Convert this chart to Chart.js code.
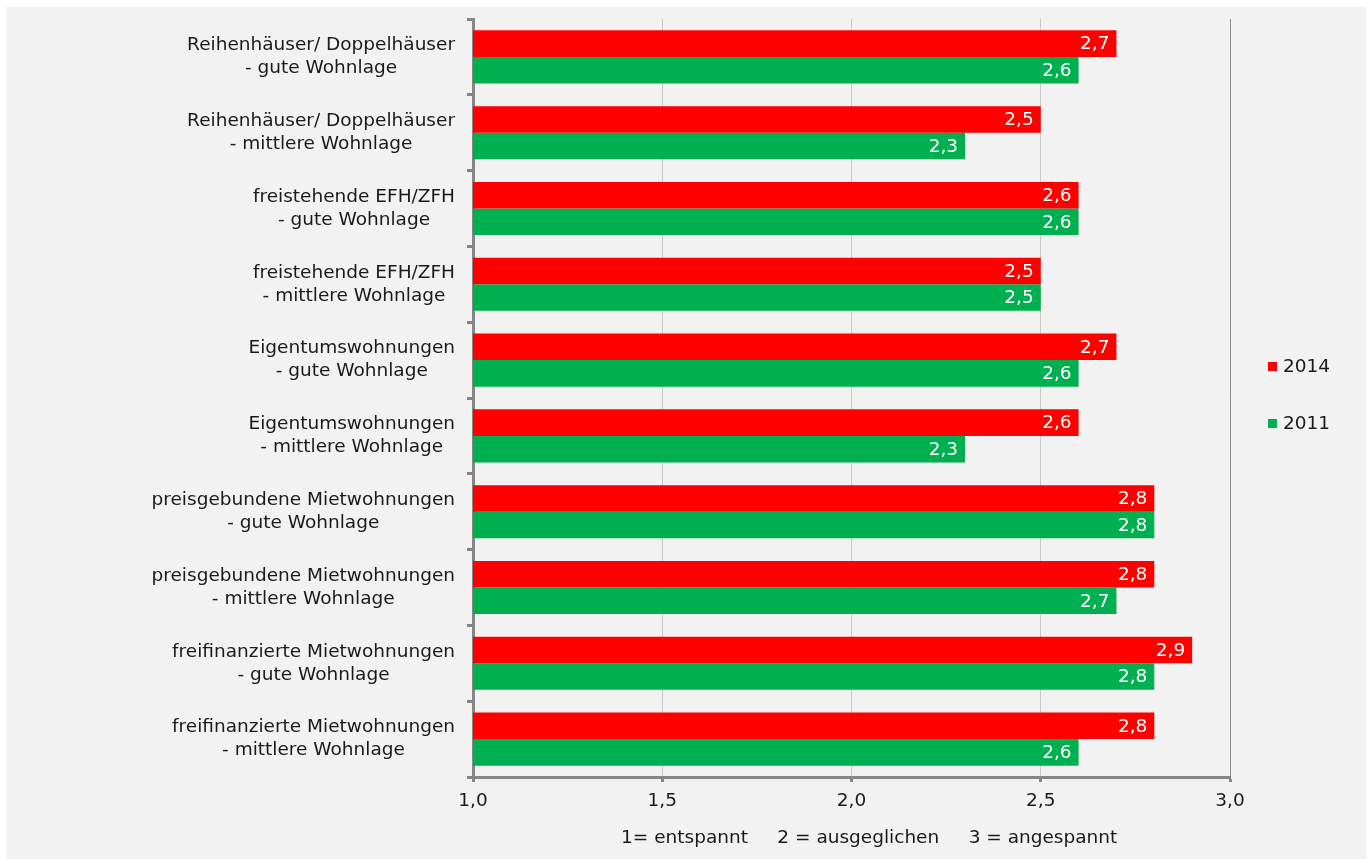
<!DOCTYPE html>
<html><head><meta charset="utf-8">
<script src="https://cdn.jsdelivr.net/npm/chart.js@4"></script>
<style>html,body{margin:0;padding:0;background:#fff;overflow:hidden}#wrap{width:1371px;height:859px;position:relative}</style>
</head><body><div id="wrap"><canvas id="c" width="1371" height="859"></canvas></div>
<script>
const categories = [
  ["Reihenhäuser/ Doppelhäuser", "- gute Wohnlage"],
  ["Reihenhäuser/ Doppelhäuser", "- mittlere Wohnlage"],
  ["freistehende EFH/ZFH", "- gute Wohnlage"],
  ["freistehende EFH/ZFH", "- mittlere Wohnlage"],
  ["Eigentumswohnungen", "- gute Wohnlage"],
  ["Eigentumswohnungen", "- mittlere Wohnlage"],
  ["preisgebundene Mietwohnungen", "- gute Wohnlage"],
  ["preisgebundene Mietwohnungen", "- mittlere Wohnlage"],
  ["freifinanzierte Mietwohnungen", "- gute Wohnlage"],
  ["freifinanzierte Mietwohnungen", "- mittlere Wohnlage"]
];
const values2014 = [2.7, 2.5, 2.6, 2.5, 2.7, 2.6, 2.8, 2.8, 2.9, 2.8];
const values2011 = [2.6, 2.3, 2.6, 2.5, 2.6, 2.3, 2.8, 2.7, 2.8, 2.6];
const seriesNames = ["2014", "2011"];
const seriesColors = ["#ff0000", "#00b050"];
const xMin = 1, xMax = 3, xStep = 0.5;
const axisTitle = "      1= entspannt     2 = ausgeglichen     3 = angespannt";

const FONT = "'DejaVu Sans', Verdana, sans-serif";
const FS = 18.5;
const fmt = v => v.toFixed(1).replace('.', ',');

const panelPlugin = {
  id: 'panel',
  beforeDraw(chart) {
    const c = chart.ctx;
    c.save();
    c.fillStyle = '#ffffff';
    c.fillRect(0, 0, chart.width, chart.height);
    c.fillStyle = '#f2f2f2';
    c.fillRect(6, 7, 1360, 852);
    c.restore();
  }
};

const catLabelPlugin = {
  id: 'catLabels',
  afterDraw(chart) {
    const c = chart.ctx, ys = chart.scales.y;
    c.save();
    c.font = FS + 'px ' + FONT;
    c.fillStyle = '#1a1a1a';
    c.textAlign = 'center';
    c.textBaseline = 'middle';
    const rightEdge = 455, lh = 23;
    categories.forEach((lines, i) => {
      const y = ys.getPixelForTick(i);
      const w = Math.max(...lines.map(l => c.measureText(l).width));
      const cx = rightEdge - w / 2;
      lines.forEach((l, j) => {
        c.fillText(l, cx, y + (j - (lines.length - 1) / 2) * lh);
      });
    });
    c.restore();
  }
};

const valueLabelPlugin = {
  id: 'valueLabels',
  afterDatasetsDraw(chart) {
    const c = chart.ctx;
    c.save();
    c.font = FS + 'px ' + FONT;
    c.fillStyle = '#ffffff';
    c.textAlign = 'right';
    c.textBaseline = 'middle';
    chart.data.datasets.forEach((ds, di) => {
      chart.getDatasetMeta(di).data.forEach((el, j) => {
        c.fillText(fmt(ds.data[j]), el.x - 7, el.y + 1);
      });
    });
    c.restore();
  }
};

const legendPlugin = {
  id: 'customLegend',
  afterDraw(chart) {
    const c = chart.ctx;
    c.save();
    c.font = FS + 'px ' + FONT;
    c.textAlign = 'left';
    c.textBaseline = 'middle';
    const ys = [366.5, 423.5];
    chart.data.datasets.forEach((ds, i) => {
      c.fillStyle = ds.backgroundColor;
      c.fillRect(1268, ys[i] - 4.5, 9, 9);
      c.fillStyle = '#1a1a1a';
      c.fillText(ds.label, 1283, ys[i] + 1);
    });
    c.restore();
  }
};

Chart.defaults.font.family = FONT;
Chart.defaults.font.size = FS;
Chart.defaults.color = '#1a1a1a';

new Chart(document.getElementById('c'), {
  type: 'bar',
  data: {
    labels: categories,
    datasets: [
      { label: seriesNames[0], data: values2014, backgroundColor: seriesColors[0], borderWidth: 0, categoryPercentage: 0.70, barPercentage: 1.0 },
      { label: seriesNames[1], data: values2011, backgroundColor: seriesColors[1], borderWidth: 0, categoryPercentage: 0.70, barPercentage: 1.0 }
    ]
  },
  options: {
    indexAxis: 'y',
    responsive: false,
    devicePixelRatio: 1,
    animation: false,
    layout: { padding: { top: 19, right: 141, left: 0, bottom: 0 } },
    plugins: { legend: { display: false }, tooltip: { enabled: false } },
    scales: {
      y: {
        type: 'category',
        position: 'left',
        ticks: { display: false },
        grid: { drawOnChartArea: false, offset: true, tickLength: 6, tickColor: '#868686', tickWidth: 3 },
        border: { color: '#868686', width: 3 },
        afterFit(s) { s.width = 473; }
      },
      x: {
        type: 'linear',
        position: 'bottom',
        min: xMin, max: xMax,
        ticks: { stepSize: xStep, callback: v => fmt(v), padding: 8, color: '#1a1a1a', font: { size: FS } },
        grid: {
          color: ctx => (ctx.tick && ctx.tick.value === xMax) ? '#8c8c8c' : '#c8c8c8',
          lineWidth: 1, tickLength: 5, tickColor: '#868686', tickWidth: 3
        },
        border: { color: '#868686', width: 3 },
        title: { display: true, text: axisTitle, color: '#1a1a1a', font: { size: FS }, padding: { top: 0, bottom: 10 } },
        afterFit(s) { s.height = 82; }
      }
    }
  },
  plugins: [panelPlugin, catLabelPlugin, valueLabelPlugin, legendPlugin]
});
</script>
</body></html>
